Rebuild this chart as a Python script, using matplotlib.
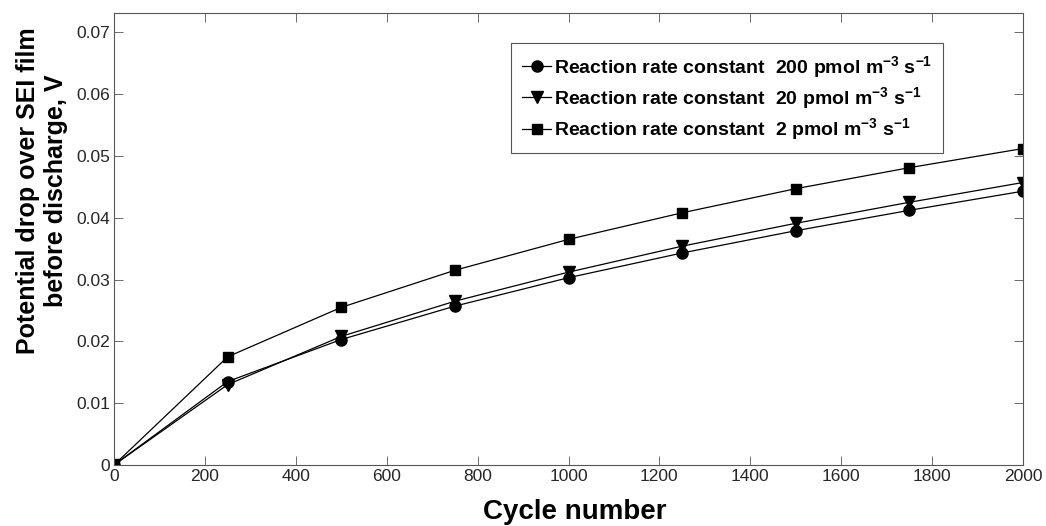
#!/usr/bin/env python3

import numpy as np
import matplotlib
matplotlib.use("Agg")
import matplotlib.pyplot as plt
from matplotlib import ticker

plt.rcParams["font.family"] = ["Liberation Sans", "DejaVu Sans"]
plt.rcParams["mathtext.fontset"] = "custom"
plt.rcParams["mathtext.bf"] = "Liberation Sans:bold"
plt.rcParams["mathtext.rm"] = "Liberation Sans:bold"
plt.rcParams["mathtext.default"] = "bf"

cycles = [0, 250, 500, 750, 1000, 1250, 1500, 1750, 2000]
k200 = [0.0, 0.0135, 0.0203, 0.0257, 0.0303, 0.0343, 0.0379, 0.0412, 0.0443]
k20 = [0.0, 0.0130, 0.0208, 0.0265, 0.0312, 0.0354, 0.0391, 0.0425, 0.0457]
k2 = [0.0, 0.0175, 0.0255, 0.0315, 0.0365, 0.0408, 0.0447, 0.0481, 0.0512]

labels = [
    r"Reaction rate constant  200 pmol m$^{-3}$ s$^{-1}$",
    r"Reaction rate constant  20 pmol m$^{-3}$ s$^{-1}$",
    r"Reaction rate constant  2 pmol m$^{-3}$ s$^{-1}$",
]

fig = plt.figure(figsize=(10.46, 5.26), dpi=100)
ax = fig.add_axes([0.109, 0.116, 0.869, 0.859])

line_style = {"color": "black", "linewidth": 0.9}
ax.plot(cycles, k200, marker="o", markersize=8, label=labels[0], **line_style)
ax.plot(cycles, k20, marker="v", markersize=8.5, label=labels[1], **line_style)
ax.plot(cycles, k2, marker="s", markersize=6.5, label=labels[2], **line_style)

ax.set_xlim(0, 2000)
ax.set_ylim(0, 0.0731)
ax.xaxis.set_major_locator(ticker.MultipleLocator(200))
ax.yaxis.set_major_locator(ticker.MultipleLocator(0.01))
ax.yaxis.set_major_formatter(ticker.FuncFormatter(
    lambda v, p: "0" if abs(v) < 1e-9 else "{:.2f}".format(v)))

for s in ax.spines.values():
    s.set_color("#555555")
    s.set_linewidth(0.8)
ax.tick_params(direction="in", length=6.5, width=0.6, color="#555555",
               labelsize=12.5, labelcolor="#262626", top=True, right=True,
               pad=3)

ax.set_xlabel("Cycle number", fontsize=20, fontweight="bold")
ax.xaxis.set_label_coords(0.507, -0.075, transform=ax.transAxes)
ax.xaxis.label.set_verticalalignment("top")
ax.set_ylabel("Potential drop over SEI film\nbefore discharge, V",
              fontsize=18, fontweight="bold", labelpad=6)
ax.yaxis.label.set_y(0.608)

leg = ax.legend(loc="upper left", bbox_to_anchor=(0.437, 0.934),
                prop={"weight": "bold", "size": 14}, handlelength=1.5,
                handletextpad=0.15, borderpad=0.55, labelspacing=0.28,
                fancybox=False, framealpha=1, borderaxespad=0)
leg.get_frame().set_edgecolor("#555555")
leg.get_frame().set_linewidth(0.8)

fig.savefig("out.png", dpi=100)
plt.close()
